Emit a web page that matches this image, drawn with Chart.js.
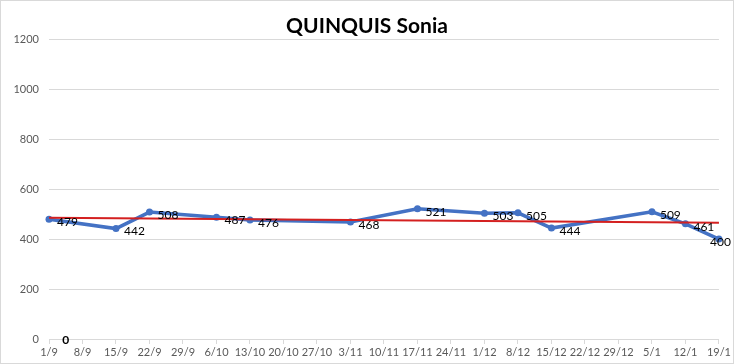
<!DOCTYPE html>
<html>
<head>
<meta charset="utf-8">
<script src="https://cdn.jsdelivr.net/npm/chart.js@4"></script>
<style>
  html, body { margin: 0; padding: 0; background: #fff; }
  #wrap { position: relative; width: 732px; height: 362px; border: 1px solid #d9d9d9; }
</style>
</head>
<body>
<div id="wrap"><canvas id="chart"></canvas></div>
<script>
// semaines (axe x)
const weeks = ["1/9", "8/9", "15/9", "22/9", "29/9", "6/10", "13/10", "20/10", "27/10", "3/11",
  "10/11", "17/11", "24/11", "1/12", "8/12", "15/12", "22/12", "29/12", "5/1", "12/1", "19/1"];
// valeurs relevées (null = pas de mesure cette semaine)
const scores = [479, null, 442, 508, null, 487, 476, null, null, 468,
  null, 521, null, 503, 505, 444, null, null, 509, 461, 400];
// courbe de tendance : début et fin
const trendEnds = [485, 465];
const trend = weeks.map((w, i) => i === 0 ? trendEnds[0] : (i === weeks.length - 1 ? trendEnds[1] : null));
const yTicks = [0, 200, 400, 600, 800, 1000, 1200];

// étiquettes de données à droite des points + le "0" en bas
const labelPlugin = {
  id: "pointLabels",
  afterDatasetsDraw(chart) {
    const ctx = chart.ctx;
    const meta = chart.getDatasetMeta(1);
    ctx.save();
    ctx.font = "12px Lato, 'Open Sans', sans-serif";
    ctx.fillStyle = "#000";
    ctx.textAlign = "left";
    ctx.textBaseline = "middle";
    meta.data.forEach((pt, i) => {
      if (scores[i] == null) return;
      const txt = String(scores[i]);
      const w = ctx.measureText(txt).width;
      const lx = Math.min(pt.x + 8, chart.width - w - 2);
      ctx.fillText(txt, lx, pt.y + 3);
    });
    const x = chart.scales.x;
    const y = chart.scales.y;
    ctx.font = "bold 12px Lato, 'Open Sans', sans-serif";
    ctx.textAlign = "center";
    ctx.fillText("0", (x.getPixelForValue(0) + x.getPixelForValue(1)) / 2, y.getPixelForValue(0) + 1);
    ctx.restore();
  }
};

new Chart(document.getElementById("chart"), {
  type: "line",
  data: {
    labels: weeks,
    datasets: [
      {
        label: "Tendance",
        data: trend,
        borderColor: "#d42020",
        borderWidth: 2,
        pointRadius: 0,
        spanGaps: true,
        order: 0,
      },
      {
        label: "QUINQUIS Sonia",
        data: scores,
        borderColor: "#4472c4",
        backgroundColor: "#4472c4",
        borderWidth: 3.5,
        pointRadius: 3.5,
        pointBorderWidth: 0,
        pointBackgroundColor: "#4472c4",
        spanGaps: true,
        tension: 0,
        order: 1,
      },
    ],
  },
  options: {
    responsive: true,
    maintainAspectRatio: false,
    animation: false,
    layout: { padding: { left: 0, right: 0, top: 0, bottom: 0 } },
    plugins: {
      legend: { display: false },
      tooltip: { enabled: false },
      title: {
        display: true,
        text: "QUINQUIS Sonia",
        color: "#000",
        font: { family: "Lato, 'Open Sans', sans-serif", size: 21, weight: "bold" },
        padding: { top: 13, bottom: 0 },
      },
    },
    scales: {
      x: {
        offset: false,
        grid: { display: true, drawOnChartArea: false, color: "#d9d9d9", tickLength: 5 },
        border: { color: "#d9d9d9" },
        ticks: {
          color: "#595959",
          font: { family: "Lato, 'Open Sans', sans-serif", size: 11 },
          maxRotation: 0,
          autoSkip: false,
          padding: 2,
        },
        afterFit(scale) { scale.height = 24; },
      },
      y: {
        min: 0,
        max: 1200,
        afterBuildTicks(scale) { scale.ticks = yTicks.map(v => ({ value: v })); },
        grid: { color: "#d9d9d9", drawTicks: false },
        border: { display: false },
        ticks: {
          color: "#595959",
          font: { family: "Lato, 'Open Sans', sans-serif", size: 11 },
          padding: 10,
          callback: v => String(v),
        },
        afterFit(scale) { scale.width = 48; },
      },
    },
  },
  plugins: [labelPlugin],
});
</script>
</body>
</html>
